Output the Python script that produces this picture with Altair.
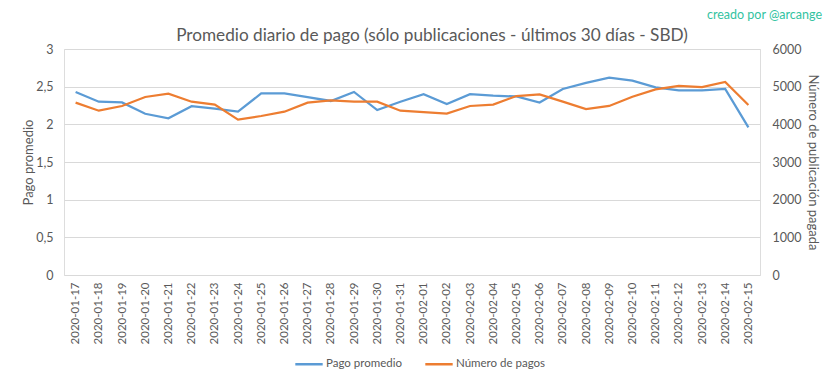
import altair as alt
import pandas as pd

fechas = ["2020-01-17", "2020-01-18", "2020-01-19", "2020-01-20", "2020-01-21",
          "2020-01-22", "2020-01-23", "2020-01-24", "2020-01-25", "2020-01-26",
          "2020-01-27", "2020-01-28", "2020-01-29", "2020-01-30", "2020-01-31",
          "2020-02-01", "2020-02-02", "2020-02-03", "2020-02-04", "2020-02-05",
          "2020-02-06", "2020-02-07", "2020-02-08", "2020-02-09", "2020-02-10",
          "2020-02-11", "2020-02-12", "2020-02-13", "2020-02-14", "2020-02-15"]

pago_promedio = [2.43, 2.30, 2.29, 2.14, 2.08, 2.24, 2.21, 2.17, 2.41, 2.41,
                 2.36, 2.31, 2.43, 2.19, 2.30, 2.40, 2.27, 2.40, 2.38, 2.37,
                 2.29, 2.47, 2.55, 2.62, 2.58, 2.49, 2.45, 2.45, 2.47, 1.96]

numero_pagos = [4575, 4362, 4487, 4726, 4814, 4601, 4522, 4124, 4221, 4336,
                4575, 4637, 4601, 4601, 4362, 4327, 4283, 4487, 4522, 4752,
                4796, 4601, 4407, 4487, 4734, 4929, 5018, 4991, 5124, 4513]

series = ["Pago promedio", "Número de pagos"]
colores = ["#5B9BD5", "#ED7D31"]

titulo = "Promedio diario de pago (sólo publicaciones - últimos 30 días - SBD)"
firma_txt = "creado por @arcange"

df = pd.DataFrame({"fecha": fechas, "pago": pago_promedio, "num": numero_pagos})

FONT = "Lato"
GRAY = "#595959"

color_scale = alt.Scale(domain=series, range=colores)

x_enc = alt.X("fecha:O", sort=fechas,
              scale=alt.Scale(type="point", padding=0.5),
              axis=alt.Axis(title=None, labelAngle=270, labelPadding=7,
                            ticks=False, domain=False, grid=False,
                            labelFontSize=11.5, labelColor=GRAY, labelFont=FONT))

legend = alt.Legend(title=None, orient="none", direction="horizontal",
                    legendX=230, legendY=300, symbolType="stroke",
                    symbolSize=750, symbolStrokeWidth=2.5, labelFontSize=11.5,
                    labelColor=GRAY, labelFont=FONT, columnPadding=18,
                    labelOffset=2)

azul = alt.Chart(df).transform_calculate(serie="'Pago promedio'").mark_line(
    strokeWidth=2.25).encode(
    x=x_enc,
    y=alt.Y("pago:Q", scale=alt.Scale(domain=[0, 3]),
            axis=alt.Axis(title="Pago promedio", values=[0, 0.5, 1, 1.5, 2, 2.5, 3],
                          labelExpr="replace(format(datum.value, '.1~f'), '.', ',')",
                          ticks=False, domain=False,
                          grid=True, gridColor="#D9D9D9", labelPadding=11,
                          titleX=-29, titleY=113, titleAngle=270,
                          titleFontWeight="normal", titleFontSize=13,
                          titleColor=GRAY, titleFont=FONT,
                          labelFontSize=12.5, labelColor=GRAY, labelFont=FONT)),
    color=alt.Color("serie:N", scale=color_scale, sort=series, legend=legend),
)

naranja = alt.Chart(df).transform_calculate(serie="'Número de pagos'").mark_line(
    strokeWidth=2.25).encode(
    x=x_enc,
    y=alt.Y("num:Q", scale=alt.Scale(domain=[0, 6000]),
            axis=alt.Axis(title="Número  de publicación pagada", orient="right",
                          values=[0, 1000, 2000, 3000, 4000, 5000, 6000],
                          format="d", ticks=False, domain=False, grid=False,
                          labelPadding=12, titleX=45, titleY=113, titleAngle=90,
                          titleFontWeight="normal", titleFontSize=13,
                          titleColor=GRAY, titleFont=FONT,
                          labelFontSize=12.5, labelColor=GRAY, labelFont=FONT)),
    color=alt.Color("serie:N", scale=color_scale, sort=series, legend=legend),
)

firma = alt.Chart(pd.DataFrame({"t": [firma_txt]})).mark_text(
    align="right", baseline="middle", font=FONT, fontSize=12.5, color="#33C3A1"
).encode(x=alt.value(758), y=alt.value(-34), text="t:N")

cabecera = alt.Chart(pd.DataFrame({"t": [titulo]})).mark_text(
    align="center", baseline="alphabetic", font=FONT, fontSize=17.2,
    color=GRAY
).encode(x=alt.value(368), y=alt.value(-8), text="t:N")

chart = alt.layer(azul, naranja, firma, cabecera).resolve_scale(
    y="independent", color="shared"
).properties(
    width=696, height=226,
    autosize=alt.AutoSizeParams(type="none"),
    padding={"left": 56, "top": 41, "right": 65, "bottom": 96},
).configure_view(stroke=None).configure(font=FONT)

chart.save("out.html", embed_options={"renderer": "svg", "actions": False})
